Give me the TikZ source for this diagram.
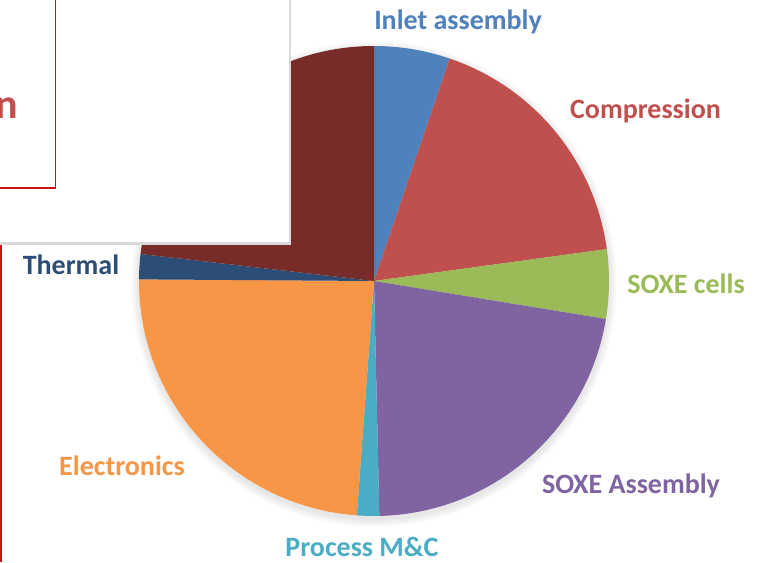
\documentclass[tikz,border=0pt]{standalone}
\usepackage{fontspec}
\usetikzlibrary{calc}
\setmainfont{Carlito}
\definecolor{inletc}{HTML}{4F81BD}
\definecolor{compc}{HTML}{C0504D}
\definecolor{cellc}{HTML}{9BBB59}
\definecolor{asmc}{HTML}{8064A2}
\definecolor{procc}{HTML}{4BACC6}
\definecolor{elecc}{HTML}{F79646}
\definecolor{thermc}{HTML}{2C4D75}
\definecolor{darkredc}{HTML}{772C2A}
\definecolor{framered}{HTML}{C8141B}
\definecolor{boxedge}{HTML}{D9D9D9}
\tikzset{
  lbl/.style={font=\fontsize{28}{30}\selectfont\bfseries, anchor=base, inner sep=0pt},
}
\begin{document}
\begin{tikzpicture}[x=1pt,y=-1pt]
\useasboundingbox (0,0) rectangle (760,562);
\fill[white] (0,0) rectangle (760,562);
% red frame edge on the left
\draw[framered, line width=2pt] (1.2,243) -- (1.2,562);
% pie
\coordinate (c) at (374,281);
\def\R{235}
\foreach \rr in {1,2,...,8}{
  \fill[black, opacity=0.012] ($(c)+(0,3)$) circle[radius=\R+\rr];
}
\foreach \a/\b/\col in {-90/-71.2/inletc, -71.2/-7.8/compc, -7.8/9.3/cellc, 9.3/88.7/asmc, 88.7/94.2/procc, 94.2/180.4/elecc, 180.4/186.6/thermc, 186.6/270/darkredc}{
  \fill[\col] (c) -- ++(\a:\R) arc[start angle=\a, end angle=\b, radius=\R] -- cycle;
}
% white overlay box
\fill[white] (-5,-5) rectangle (290,243);
\draw[boxedge, line width=2.5pt] (290,-5) -- (290,243.5) -- (-5,243.5);
\draw[framered, line width=1.8pt] (-5,188) -- (55.5,188) -- (55.5,-5);
\node[font=\fontsize{42}{44}\selectfont\bfseries, text=compc, anchor=base east, inner sep=0pt] (cut) at (18,118) {n};
% labels
\node[lbl, text=inletc] (linlet) at (458,29.5) {Inlet assembly};
\node[lbl, text=compc] (lcomp) at (645.5,118) {Compression};
\node[lbl, text=cellc] (lcell) at (686,293.3) {SOXE cells};
\node[lbl, text=asmc] (lasm) at (631,493.3) {SOXE Assembly};
\node[lbl, text=procc] (lproc) at (362,556.5) {Process M\&C};
\node[lbl, text=elecc] (lelec) at (122,475) {Electronics};
\node[lbl, text=thermc] (ltherm) at (71,274) {Thermal};
\end{tikzpicture}
\end{document}
